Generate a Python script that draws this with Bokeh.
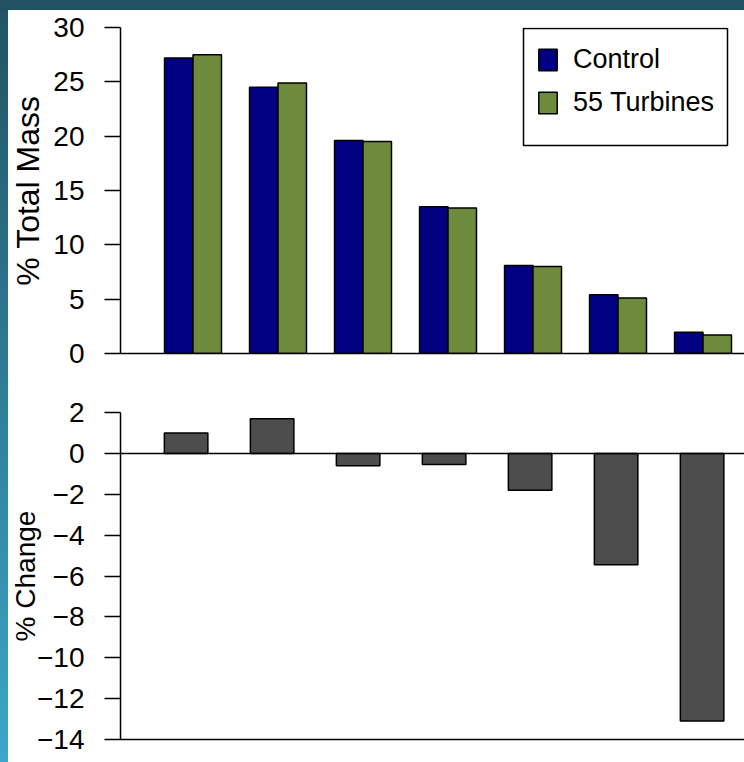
import numpy as np
from bokeh.plotting import figure
from bokeh.models import (ColumnDataSource, Legend, LegendItem, FixedTicker, Span,
                          BoxAnnotation, GlobalInlineStyleSheet, Range1d)
from bokeh.layouts import column
from bokeh.embed import file_html
from bokeh.resources import INLINE

# ---- data ----
size_classes = [1, 2, 3, 4, 5, 6, 7]
control = [27.2, 24.5, 19.6, 13.5, 8.1, 5.4, 1.95]
turbines = [27.5, 24.9, 19.5, 13.4, 8.0, 5.1, 1.7]
pct_change = [1.0, 1.7, -0.6, -0.55, -1.8, -5.45, -13.1]
series_names = ["Control", "55 Turbines"]
top_ticks = [0, 5, 10, 15, 20, 25, 30]
bottom_ticks = [-14, -12, -10, -8, -6, -4, -2, 0, 2]
top_label = "% Total Mass"
bottom_label = "% Change"

FONT = "Liberation Sans"
C_CONTROL = "#000080"
C_TURB = "#6e8b3d"
C_CHANGE = "#4d4d4d"

idx = np.arange(len(size_classes))
bw = 0.335
src_top = ColumnDataSource(dict(xc=idx - bw / 2, xt=idx + bw / 2,
                                control=control, turbines=turbines))
src_bot = ColumnDataSource(dict(x=idx, change=pct_change))


def style_y(p, ticks, label, label_size, overrides=None, label_standoff=0):
    ax = p.yaxis[0]
    ax.ticker = FixedTicker(ticks=ticks)
    ax.major_tick_out = 16
    ax.major_tick_in = 0
    ax.minor_tick_out = 0
    ax.minor_tick_in = 0
    ax.major_tick_line_width = 1.5
    ax.major_tick_line_color = "black"
    ax.axis_line_width = 1.5
    ax.axis_line_color = "black"
    ax.major_label_text_font = FONT
    ax.major_label_text_font_size = "28px"
    ax.major_label_text_color = "black"
    ax.major_label_standoff = 20
    ax.axis_label = label
    ax.axis_label_text_font = FONT
    ax.axis_label_text_font_size = label_size
    ax.axis_label_text_font_style = "normal"
    ax.axis_label_text_color = "black"
    ax.axis_label_standoff = label_standoff
    if overrides:
        ax.major_label_overrides = overrides


def style_x(p):
    ax = p.xaxis[0]
    ax.ticker = FixedTicker(ticks=[])
    ax.major_tick_out = 0
    ax.major_tick_in = 0
    ax.minor_tick_out = 0
    ax.minor_tick_in = 0
    ax.major_label_text_font_size = "0px"
    ax.axis_line_width = 1.5
    ax.axis_line_color = "black"


# ---- top panel ----
p1 = figure(frame_width=624, frame_height=326,
            min_border_left=116, min_border_right=0,
            min_border_top=17, min_border_bottom=39,
            x_range=Range1d(-0.853, 6.488), y_range=Range1d(0, 30),
            output_backend="svg", toolbar_location=None)
p1.grid.visible = False
p1.outline_line_color = None
p1.border_fill_alpha = 0
style_y(p1, top_ticks, top_label, "32px", label_standoff=4)
style_x(p1)

r_c = p1.vbar(x="xc", top="control", width=bw, bottom=0, source=src_top,
              fill_color=C_CONTROL, line_color="black", line_width=1.5)
r_t = p1.vbar(x="xt", top="turbines", width=bw, bottom=0, source=src_top,
              fill_color=C_TURB, line_color="black", line_width=1.5)

box = BoxAnnotation(left=519, right=723, top=18, bottom=135,
                    left_units="canvas", right_units="canvas",
                    top_units="canvas", bottom_units="canvas",
                    fill_color="white", fill_alpha=1.0,
                    line_color="black", line_alpha=1.0, line_width=1.5)
p1.add_layout(box)

legend = Legend(items=[LegendItem(label=series_names[0], renderers=[r_c]),
                       LegendItem(label=series_names[1], renderers=[r_t])],
                location=(389, 208), orientation="vertical",
                padding=27, spacing=12, margin=0,
                glyph_width=23, glyph_height=27, label_standoff=14,
                label_text_font=FONT, label_text_font_size="27px",
                label_text_color="black",
                border_line_alpha=0, background_fill_alpha=0)
p1.add_layout(legend)

# ---- bottom panel ----
p2 = figure(frame_width=624, frame_height=327,
            min_border_left=116, min_border_right=0,
            min_border_top=20, min_border_bottom=23,
            x_range=Range1d(-0.763, 6.493), y_range=Range1d(-14, 2),
            output_backend="svg", toolbar_location=None)
p2.grid.visible = False
p2.outline_line_color = None
p2.border_fill_alpha = 0
minus = {t: str(t).replace("-", "\u2212") for t in bottom_ticks}
style_y(p2, bottom_ticks, bottom_label, "28px", overrides=minus, label_standoff=-7)
style_x(p2)

p2.vbar(x="x", top="change", bottom=0, width=0.506, source=src_bot,
        fill_color=C_CHANGE, line_color="black", line_width=1.5)
p2.add_layout(Span(location=0, dimension="width", line_color="black",
                   line_width=1.5))

css = """
html { background:
  linear-gradient(#215263, #215263) 0 0 / 100% 10px no-repeat,
  linear-gradient(#215263, #3da6c9) 0 0 / 8px 100% no-repeat,
  #ffffff; }
body { margin: 10px 0 0 4px; background: transparent; overflow: hidden; }
"""

layout = column(p1, p2, spacing=0)
layout.stylesheets = [GlobalInlineStyleSheet(css=css)]

open("out.html", "w").write(file_html(layout, INLINE))
